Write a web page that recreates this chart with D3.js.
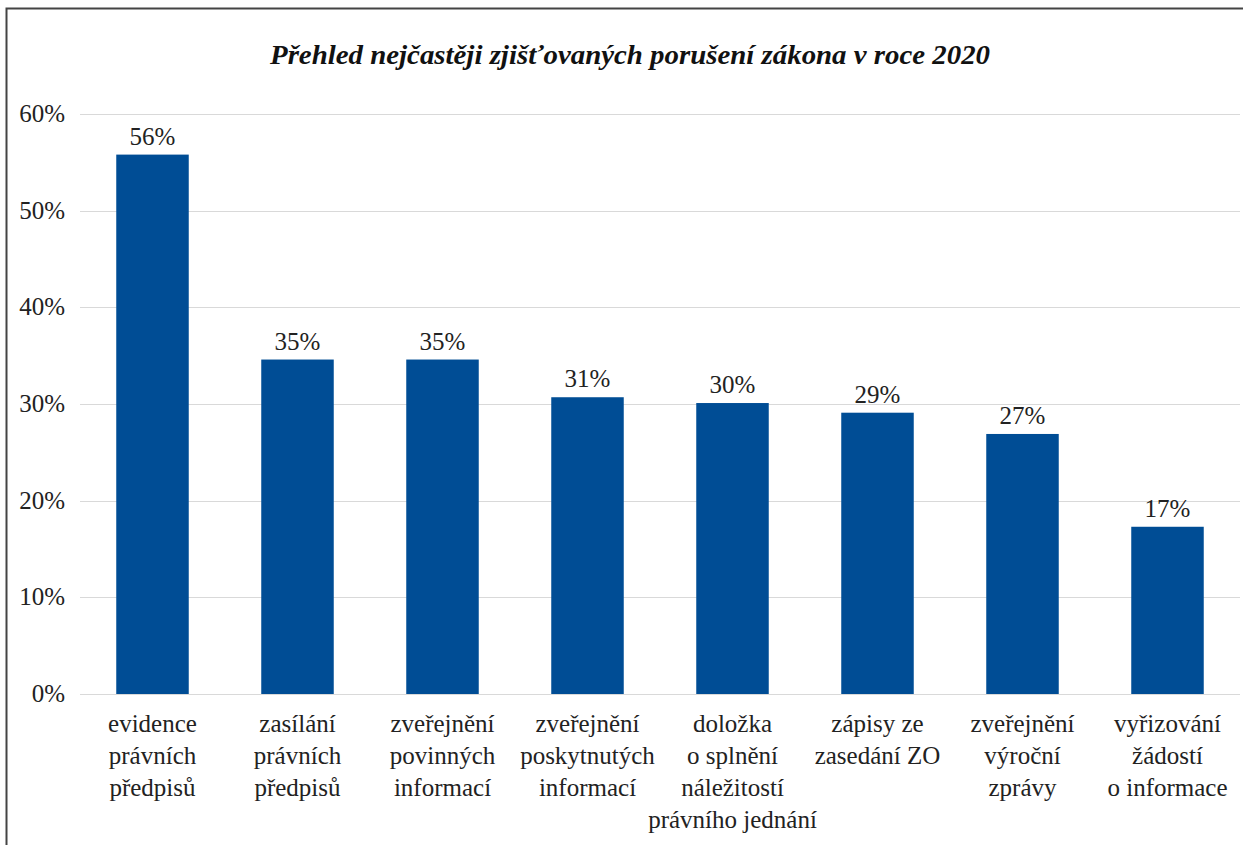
<!DOCTYPE html>
<html>
<head>
<meta charset="utf-8">
<script src="https://cdn.jsdelivr.net/npm/d3@7"></script>
<style>
  html, body { margin: 0; padding: 0; background: #fff; }
  svg text { font-family: "Liberation Serif", "Times New Roman", Tinos, Times, "DejaVu Serif", "Noto Serif", serif; }
</style>
</head>
<body>
<div id="chart"></div>
<script>
  // values
  var categories = [
    ['evidence', 'právních', 'předpisů'],
    ['zasílání', 'právních', 'předpisů'],
    ['zveřejnění', 'povinných', 'informací'],
    ['zveřejnění', 'poskytnutých', 'informací'],
    ['doložka', 'o splnění', 'náležitostí', 'právního jednání'],
    ['zápisy ze', 'zasedání ZO'],
    ['zveřejnění', 'výroční', 'zprávy'],
    ['vyřizování', 'žádostí', 'o informace']
  ];
  var values = [55.8, 34.6, 34.6, 30.7, 30.1, 29.1, 26.9, 17.3];
  var yTicks = [0, 10, 20, 30, 40, 50, 60];
  var title = 'Přehled nejčastěji zjišťovaných porušení zákona v roce 2020';

  var width = 1243, height = 845;
  var barColor = '#004d95';
  var gridColor = '#d9d9d9';
  var serif = '"Liberation Serif", "Times New Roman", Tinos, Times, "DejaVu Serif", "Noto Serif", serif';

  var svg = d3.select('#chart').append('svg')
    .attr('width', width)
    .attr('height', height);

  // frame (left and top edges are visible, the rest is cropped)
  svg.append('path')
    .attr('d', 'M6.5,' + height + ' V8.5 H' + width)
    .attr('fill', 'none')
    .attr('stroke', '#444')
    .attr('stroke-width', 2);

  svg.append('text')
    .attr('x', 630)
    .attr('y', 64)
    .attr('text-anchor', 'middle')
    .attr('textLength', 720)
    .attr('lengthAdjust', 'spacingAndGlyphs')
    .style('font-family', serif)
    .style('font-size', '27px')
    .style('font-weight', 'bold')
    .style('font-style', 'italic')
    .style('fill', '#111')
    .text(title);

  var x = d3.scaleBand()
    .domain(d3.range(categories.length))
    .range([80, 1240])
    .paddingInner(0.5)
    .paddingOuter(0.25);

  var y = d3.scaleLinear()
    .domain([0, 60])
    .range([694, 114]);

  // gridlines
  svg.append('g').selectAll('line')
    .data(yTicks)
    .enter()
    .append('line')
    .attr('x1', 80)
    .attr('x2', 1240)
    .attr('y1', function(d) { return Math.round(y(d)) + 0.5; })
    .attr('y2', function(d) { return Math.round(y(d)) + 0.5; })
    .attr('stroke', gridColor)
    .attr('stroke-width', 1);

  // y tick labels
  svg.append('g').selectAll('text')
    .data(yTicks)
    .enter()
    .append('text')
    .attr('x', 65)
    .attr('y', function(d) { return y(d) + 8; })
    .attr('text-anchor', 'end')
    .style('font-family', serif)
    .style('font-size', '25px')
    .style('fill', '#222')
    .text(function(d) { return d + '%'; });

  // bars
  svg.append('g').selectAll('rect')
    .data(values)
    .enter()
    .append('rect')
    .attr('x', function(d, i) { return x(i); })
    .attr('y', function(d) { return y(d); })
    .attr('width', x.bandwidth())
    .attr('height', function(d) { return y(0) - y(d); })
    .attr('fill', barColor);

  // value labels
  svg.append('g').selectAll('text')
    .data(values)
    .enter()
    .append('text')
    .attr('x', function(d, i) { return x(i) + x.bandwidth() / 2; })
    .attr('y', function(d) { return y(d) - 10; })
    .attr('text-anchor', 'middle')
    .style('font-family', serif)
    .style('font-size', '25px')
    .style('fill', '#222')
    .text(function(d) { return Math.round(d) + '%'; });

  // category labels
  var cat = svg.append('g').selectAll('text')
    .data(categories)
    .enter()
    .append('text')
    .attr('text-anchor', 'middle')
    .style('font-family', serif)
    .style('font-size', '25px')
    .style('fill', '#222');

  cat.selectAll('tspan')
    .data(function(d, i) { return d.map(function(s) { return { s: s, i: i }; }); })
    .enter()
    .append('tspan')
    .attr('x', function(d) { return x(d.i) + x.bandwidth() / 2; })
    .attr('y', function(d, j) { return 732 + j * 32; })
    .text(function(d) { return d.s; });
</script>
</body>
</html>
